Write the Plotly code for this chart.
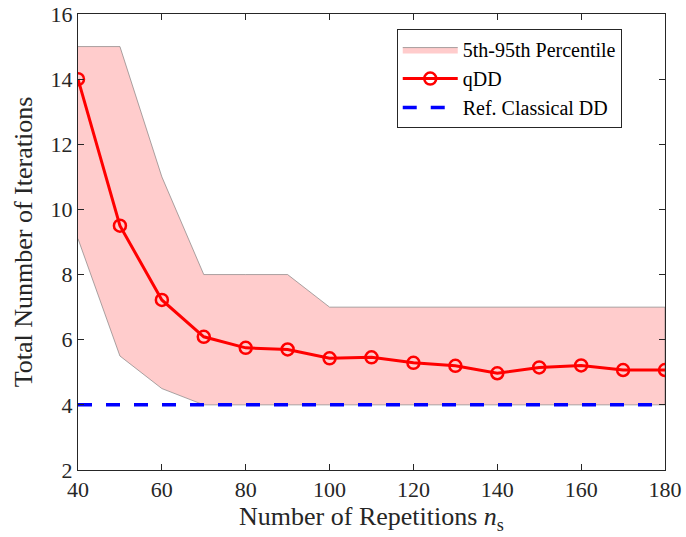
import plotly.graph_objects as go

ns = [40, 50, 60, 70, 80, 90, 100, 110, 120, 130, 140, 150, 160, 170, 180]
qdd = [14.0, 9.5, 7.22, 6.09, 5.75, 5.70, 5.43, 5.46, 5.29, 5.20, 4.97, 5.15, 5.21, 5.07, 5.07]
p95 = [15, 15, 11, 8, 8, 8, 7, 7, 7, 7, 7, 7, 7, 7, 7]
p5 = [9.1, 5.5, 4.5, 4, 4, 4, 4, 4, 4, 4, 4, 4, 4, 4, 4]
ref_x = [40, 180]
ref_y = [4, 4]
x_ticks = [40, 60, 80, 100, 120, 140, 160, 180]
y_ticks = [2, 4, 6, 8, 10, 12, 14, 16]
series_names = ["5th-95th Percentile", "qDD", "Ref. Classical DD"]

SERIF = "Times New Roman"


def serif(t):
    return "<span style='font-family:Times New Roman'>" + str(t) + "</span>"


fig = go.Figure()
fig.add_trace(go.Scatter(
    x=ns + ns[::-1], y=p95 + p5[::-1],
    fill="toself", fillcolor="rgba(255,204,204,1)",
    line=dict(color="rgba(120,120,120,0.8)", width=0.8),
    mode="lines", name=serif(series_names[0]), hoverinfo="skip"))
fig.add_trace(go.Scatter(
    x=ns, y=qdd, mode="lines+markers", name=serif(series_names[1]),
    line=dict(color="#ff0000", width=3),
    marker=dict(symbol="circle-open", size=12, color="#ff0000", line=dict(width=2.5, color="#ff0000"))))
fig.add_trace(go.Scatter(
    x=ref_x, y=ref_y, mode="lines", name=serif(series_names[2]),
    line=dict(color="#0000ff", width=3.5, dash="14px,14px")))

fig.update_layout(
    width=686, height=537,
    margin=dict(l=78, r=21, t=14, b=67),
    paper_bgcolor="white", plot_bgcolor="white",
    font=dict(family=SERIF, size=22, color="#262626"),
    xaxis=dict(range=[40, 180], tickvals=x_ticks, ticktext=[serif(v) for v in x_ticks],
               title=dict(text="Number of Repetitions <i>n</i><sub>s</sub>", standoff=4),
               tickfont=dict(family=SERIF, size=22, color="#262626"),
               showgrid=False, zeroline=False, showline=True, linecolor="#262626", linewidth=1,
               mirror="ticks", ticks="inside", ticklen=6, tickcolor="#262626", automargin=False),
    yaxis=dict(range=[2, 16], tickvals=y_ticks, ticktext=[serif(v) for v in y_ticks],
               title=dict(text="Total Nunmber of Iterations", standoff=10),
               tickfont=dict(family=SERIF, size=22, color="#262626"),
               showgrid=False, zeroline=False, showline=True, linecolor="#262626", linewidth=1,
               mirror="ticks", ticks="inside", ticklen=6, tickcolor="#262626", automargin=False),
    legend=dict(x=0.543, y=0.967, xanchor="left", yanchor="top",
                bgcolor="white", bordercolor="#262626", borderwidth=1,
                font=dict(family=SERIF, size=20, color="#000000"),
                tracegroupgap=0, itemwidth=55),
    showlegend=True,
)

fig.write_html("out.html")
